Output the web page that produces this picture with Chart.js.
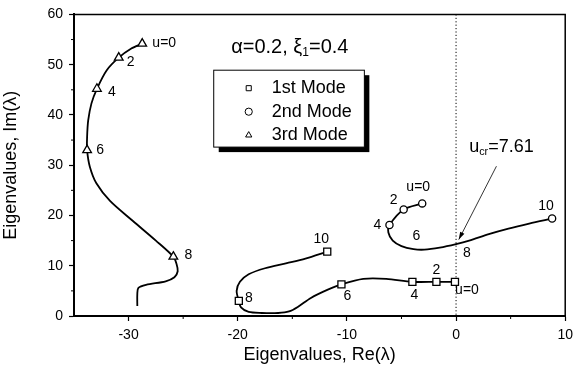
<!DOCTYPE html>
<html>
<head>
<meta charset="utf-8">
<script src="https://cdn.jsdelivr.net/npm/chart.js@4.4.1/dist/chart.umd.min.js"></script>
<style>
html, body { margin: 0; padding: 0; background: #fff; }
#wrap { width: 579px; height: 368px; }
</style>
</head>
<body>
<div id="wrap"><canvas id="eig"></canvas></div>
<script>
// eigenvalue loci traced along u = 0 -> 10, [Re, Im]
let mode1Curve = [[-0.1,6.8],[-1.8,6.8],[-4.0,6.8],[-6.4,7.4],[-8.5,7.4],[-10.5,6.3],[-11.8,5.2],[-13.3,3.6],
    [-14.5,1.8],[-15.3,0.9],[-16.3,0.6],[-17.8,0.6],[-19.0,0.8],[-19.7,1.7],[-19.9,3.0],[-20.1,5.0],
    [-19.8,6.8],[-19.0,8.3],[-17.5,9.5],[-15.5,10.5],[-13.8,11.4],[-11.8,12.8]];
let mode2Curve = [[-3.1,22.4],[-4.8,21.2],[-6.1,18.1],[-6.2,16.6],[-5.8,15.0],[-5.0,13.9],[-3.9,13.3],
    [-2.9,13.2],[-1.5,13.6],[0.0,14.3],[1.2,15.0],[3.0,16.3],[4.8,17.4],[6.7,18.4],[8.8,19.4]];
let mode3Curve = [[-28.75,54.2],[-29.75,53.2],[-30.9,51.4],[-32.0,48.9],[-32.9,45.2],[-33.4,42.3],[-33.7,38.9],
    [-33.8,35.6],[-33.8,33.0],[-33.55,29.7],[-32.95,26.4],[-31.7,22.9],[-29.6,18.9],[-27.5,15.0],[-25.9,11.8],
    [-25.6,10.3],[-25.5,8.9],[-25.8,7.7],[-26.6,6.9],[-28.4,6.2],[-29.1,5.6],[-29.2,4.4],[-29.2,2.0]];

// marked values of u on each locus
let mode1Marks = [[-0.1,6.8],[-1.8,6.8],[-4.0,6.8],[-10.5,6.3],[-19.9,3.0],[-11.8,12.8]];
let mode2Marks = [[-3.1,22.4],[-4.8,21.2],[-6.1,18.1],[-3.9,13.3],[0.9,14.8],[8.8,19.4]];
let mode3Marks = [[-28.75,54.2],[-30.9,51.4],[-32.9,45.2],[-33.8,33.0],[-25.9,11.8]];
let mode1Tags = ['u=0','2','4','6','8','10'];
let mode2Tags = ['u=0','2','4','6','8','10'];
let mode3Tags = ['u=0','2','4','6','8'];

let modeNames = ['1st Mode','2nd Mode','3rd Mode'];
let xTicks = [-30,-20,-10,0,10];
let yTicks = [0,10,20,30,40,50,60];
let uCritical = 7.61;

const FONT = "'Liberation Sans', Arial, Helvetica, sans-serif";

// where each u label sits relative to its marker (px)
let tagOffsets = [
    [[12,8],[0,-12],[2,13],[6,12],[10,-3],[-6,-13]],
    [[-4,-16],[-10,-9],[-12,0],[3,-13],[1,12],[-6,-12]],
    [[22,0],[12,5],[15,3],[13,0],[15,-2]]
];

function toPts(arr) {
    return arr.map(p => ({x: p[0], y: p[1]}));
}

function markerSet(label, marks, style, radius) {
    return {
        label: label,
        data: toPts(marks),
        showLine: false,
        pointStyle: style,
        pointRadius: radius,
        pointBackgroundColor: '#fff',
        pointBorderColor: '#000',
        pointBorderWidth: 1.3
    };
}

function curveSet(curve) {
    return {
        data: toPts(curve),
        showLine: true,
        borderColor: '#000',
        borderWidth: 1.8,
        tension: 0.3,
        pointRadius: 0
    };
}

function drawSub(c, parts, x, y, size) {
    // parts: [text, isSub]
    let cx = x;
    parts.forEach(p => {
        c.font = (p[1] ? size * 0.6 : size) + 'px ' + FONT;
        c.fillText(p[0], cx, p[1] ? y + size * 0.3 : y);
        cx += c.measureText(p[0]).width;
    });
}

const decor = {
    id: 'decor',
    beforeDatasetsDraw(chart) {
        const c = chart.ctx, a = chart.chartArea, x = chart.scales.x;
        c.save();
        c.strokeStyle = '#000';
        c.lineWidth = 1;
        c.setLineDash([1.2, 2.2]);
        let px = x.getPixelForValue(0);
        c.beginPath();
        c.moveTo(px, a.top);
        c.lineTo(px, a.bottom);
        c.stroke();
        c.restore();
    },
    afterDraw(chart) {
        const c = chart.ctx, a = chart.chartArea, x = chart.scales.x, y = chart.scales.y;
        c.save();
        c.strokeStyle = '#000';
        c.fillStyle = '#000';

        // frame top + right
        c.lineWidth = 1.5;
        c.beginPath();
        c.moveTo(a.left, a.top);
        c.lineTo(a.right, a.top);
        c.lineTo(a.right, a.bottom);
        c.stroke();

        // minor ticks
        c.lineWidth = 1;
        for (let v = -25; v < 10; v += 10) {
            let px = x.getPixelForValue(v);
            c.beginPath(); c.moveTo(px, a.bottom); c.lineTo(px, a.bottom + 3); c.stroke();
        }
        for (let v = 5; v < 60; v += 10) {
            let py = y.getPixelForValue(v);
            c.beginPath(); c.moveTo(a.left, py); c.lineTo(a.left - 3, py); c.stroke();
        }

        // u labels
        c.font = '14px ' + FONT;
        c.textAlign = 'center';
        c.textBaseline = 'middle';
        let tagLists = [mode1Tags, mode2Tags, mode3Tags];
        for (let i = 0; i < 3; i++) {
            let meta = chart.getDatasetMeta(i);
            meta.data.forEach((pt, j) => {
                let off = tagOffsets[i][j];
                c.fillText(tagLists[i][j], pt.x + off[0], pt.y + off[1]);
            });
        }

        // parameters
        c.textAlign = 'left';
        drawSub(c, [['\u03b1=0.2, \u03be', false], ['1', true], ['=0.4', false]],
            x.getPixelForValue(-20.6), y.getPixelForValue(53.5), 20);

        // critical speed and arrow
        drawSub(c, [['u', false], ['cr', true], ['=' + uCritical, false]],
            x.getPixelForValue(1.2), y.getPixelForValue(33.6), 18);
        let x0 = x.getPixelForValue(3.7), y0 = y.getPixelForValue(29.8);
        let x1 = x.getPixelForValue(0.25), y1 = y.getPixelForValue(15.2);
        c.lineWidth = 0.8;
        c.beginPath(); c.moveTo(x0, y0); c.lineTo(x1, y1); c.stroke();
        let ang = Math.atan2(y1 - y0, x1 - x0);
        c.beginPath();
        c.moveTo(x1, y1);
        c.lineTo(x1 - 8 * Math.cos(ang - 0.3), y1 - 8 * Math.sin(ang - 0.3));
        c.lineTo(x1 - 8 * Math.cos(ang + 0.3), y1 - 8 * Math.sin(ang + 0.3));
        c.closePath();
        c.fill();

        // legend box with shadow
        let bx = x.getPixelForValue(-22.2), by = y.getPixelForValue(48.9);
        let bw = x.getPixelForValue(-8.4) - bx, bh = y.getPixelForValue(33.6) - by;
        c.fillRect(bx + 5, by + 5, bw, bh);
        c.fillStyle = '#fff';
        c.fillRect(bx, by, bw, bh);
        c.lineWidth = 1;
        c.strokeRect(bx, by, bw, bh);
        let styles = ['rect', 'circle', 'triangle'];
        for (let i = 0; i < 3; i++) {
            let ly = by + 18 + i * 23.5;
            c.fillStyle = '#fff';
            Chart.helpers.drawPoint(c, {pointStyle: styles[i], radius: 3.6, borderWidth: 1}, bx + 35, ly);
            c.fillStyle = '#000';
            c.font = '18px ' + FONT;
            c.textBaseline = 'middle';
            c.fillText(modeNames[i], bx + 58, ly);
        }
        c.restore();
    }
};

let myChart = new Chart(document.querySelector('#eig').getContext('2d'), {
    type: 'scatter',
    data: {
        datasets: [
            markerSet(modeNames[0], mode1Marks, 'rect', 5),
            Object.assign(markerSet(modeNames[1], mode2Marks, 'circle', 3.6), {pointRadius: [3.6,3.6,3.6,0,0,3.6]}),
            markerSet(modeNames[2], mode3Marks, 'triangle', 5),
            curveSet(mode1Curve),
            curveSet(mode2Curve),
            curveSet(mode3Curve)
        ]
    },
    plugins: [decor],
    options: {
        responsive: true,
        maintainAspectRatio: false,
        animation: false,
        layout: { padding: { top: 14, right: 9, left: 0, bottom: 0 } },
        plugins: { legend: { display: false }, tooltip: { enabled: false } },
        scales: {
            x: {
                type: 'linear',
                min: -35, max: 10,
                afterFit: s => { s.height = 52; },
                afterBuildTicks: s => { s.ticks = xTicks.map(v => ({value: v})); },
                border: { color: '#000', width: 2 },
                grid: { drawOnChartArea: false, drawTicks: true, tickLength: 5, tickColor: '#000', tickWidth: 1.2 },
                ticks: { color: '#000', padding: 6, maxRotation: 0, font: { family: FONT, size: 14 } },
                title: { display: true, text: 'Eigenvalues, Re(\u03bb)', color: '#000',
                    font: { family: FONT, size: 18 }, padding: { top: 0, bottom: 2 } }
            },
            y: {
                type: 'linear',
                min: 0, max: 60,
                afterFit: s => { s.width = 74; },
                afterBuildTicks: s => { s.ticks = yTicks.map(v => ({value: v})); },
                border: { color: '#000', width: 2 },
                grid: { drawOnChartArea: false, drawTicks: true, tickLength: 5, tickColor: '#000', tickWidth: 1.2 },
                ticks: { color: '#000', padding: 6, font: { family: FONT, size: 14 } },
                title: { display: true, text: 'Eigenvalues, Im(\u03bb)', color: '#000',
                    font: { family: FONT, size: 18 }, padding: { top: 0, bottom: 12 } }
            }
        }
    }
});
</script>
</body>
</html>
